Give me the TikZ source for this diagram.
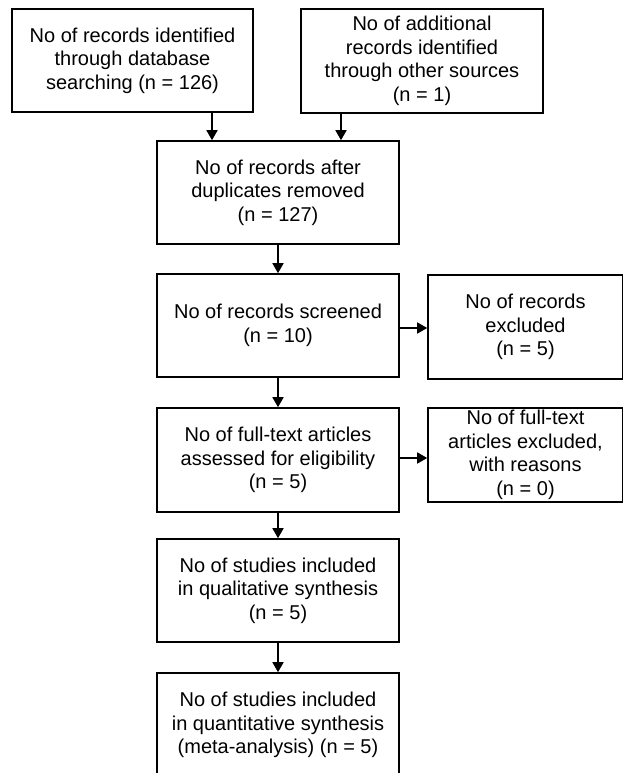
\documentclass[tikz,border=0pt]{standalone}
\usepackage{fontspec}
\setmainfont{Liberation Sans}
\usetikzlibrary{arrows.meta}
\begin{document}
\begin{tikzpicture}[x=1pt,y=1pt,
  box/.style={draw=black, line width=1.6pt, rectangle, inner sep=0pt, align=center,
    font=\fontsize{20pt}{23.5pt}\selectfont},
  arr/.style={draw=black, line width=1.6pt, -{Triangle[length=10pt,width=11pt]}}]
\useasboundingbox (0,0) rectangle (622,-773);
\node[box, minimum width=241pt, minimum height=103pt] (A) at (132.5,-60.5)
  {No of records identified\\through database\\searching (n = 126)};
\node[box, minimum width=242pt, minimum height=104pt] (B) at (422,-61)
  {No of additional\\records identified\\through other sources\\(n = 1)};
\node[box, minimum width=242pt, minimum height=103pt] (C) at (278,-192.5)
  {No of records after\\duplicates removed\\(n = 127)};
\node[box, minimum width=242pt, minimum height=103pt] (D) at (278,-325.5)
  {No of records screened\\(n = 10)};
\node[box, minimum width=195pt, minimum height=104pt] (E) at (525.5,-327)
  {No of records\\excluded\\(n = 5)};
\node[box, minimum width=242pt, minimum height=104pt] (F) at (278,-460)
  {No of full-text articles\\assessed for eligibility\\(n = 5)};
\node[box, minimum width=195pt, minimum height=94pt] (G) at (525.5,-455)
  {No of full-text\\articles excluded,\\with reasons\\(n = 0)};
\node[box, minimum width=242pt, minimum height=103pt] (H) at (278,-590.5)
  {No of studies included\\in qualitative synthesis\\(n = 5)};
\node[box, minimum width=242pt, minimum height=104pt] (I) at (278,-725)
  {No of studies included\\in quantitative synthesis\\(meta-analysis) (n = 5)};
\draw[arr] ([xshift=79.5pt]A.south) -- ([xshift=79.5pt]A.south |- C.north);
\draw[arr] ([xshift=-81pt]B.south) -- ([xshift=-81pt]B.south |- C.north);
\draw[arr] (C.south) -- (D.north);
\draw[arr] ([yshift=-2.5pt]D.east) -- ([yshift=-2.5pt]D.east -| E.west);
\draw[arr] (D.south) -- (F.north);
\draw[arr] ([yshift=2pt]F.east) -- ([yshift=2pt]F.east -| G.west);
\draw[arr] (F.south) -- (H.north);
\draw[arr] (H.south) -- (I.north);
\end{tikzpicture}
\end{document}
